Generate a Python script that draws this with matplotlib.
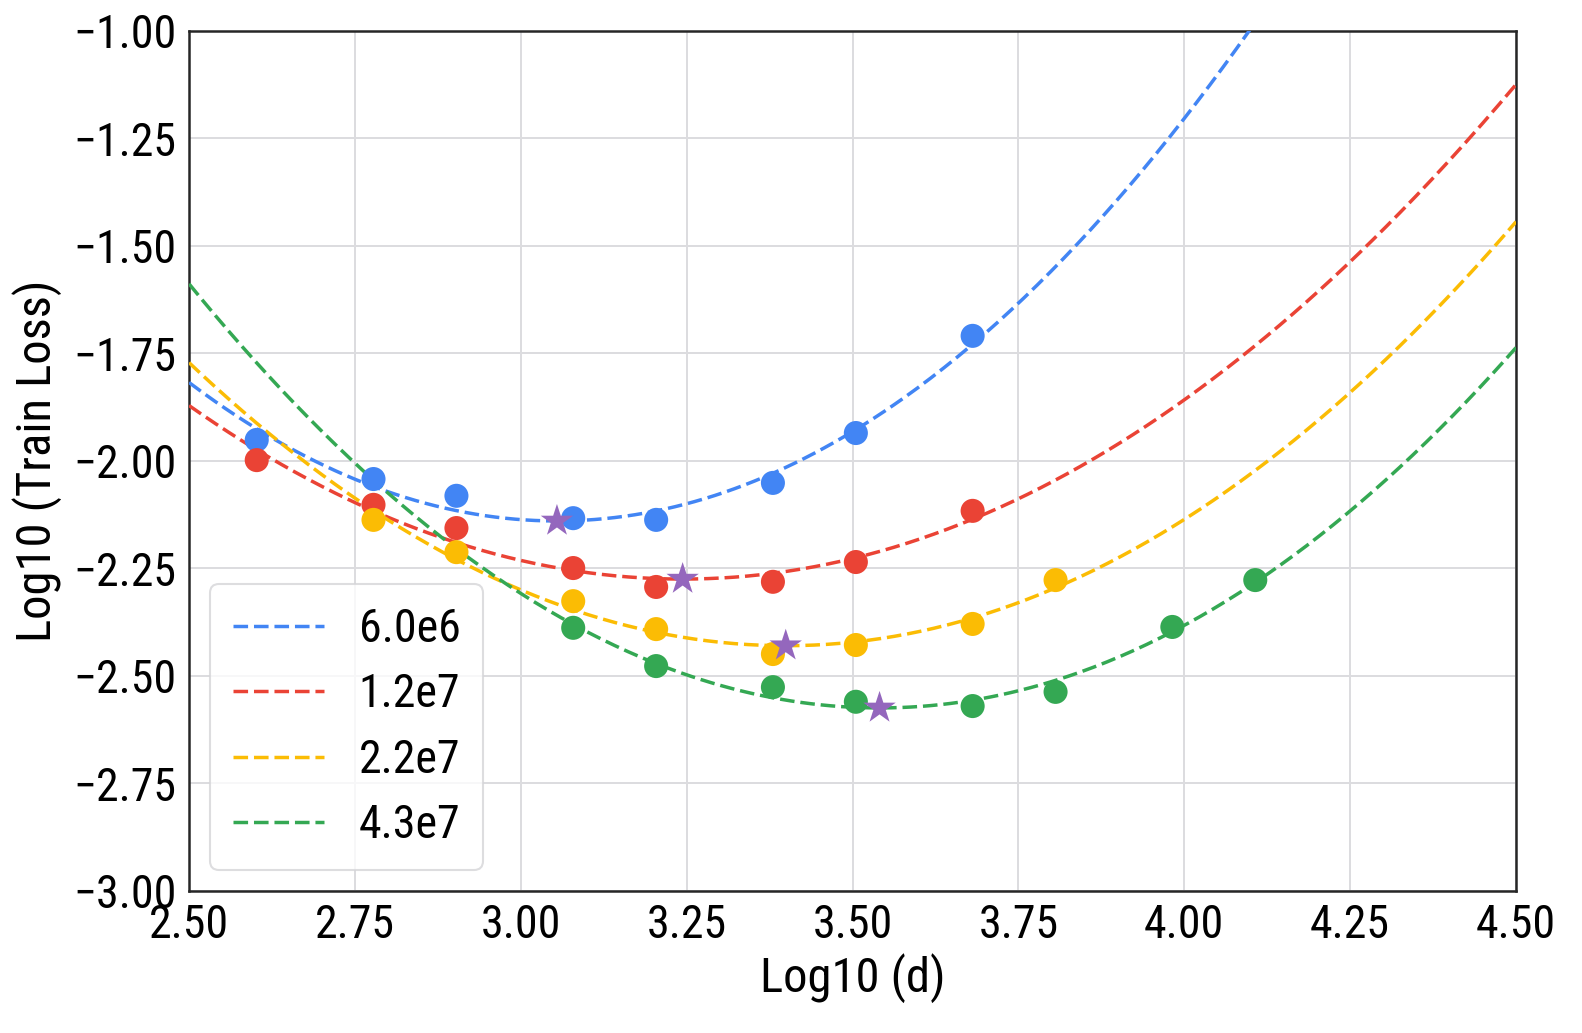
import numpy as np
import matplotlib
matplotlib.use("Agg")
import matplotlib.pyplot as plt
from matplotlib import font_manager

# ---- data ----
labels = ["6.0e6", "1.2e7", "2.2e7", "4.3e7"]
colors = ["#4285F4", "#EA4335", "#FBBC04", "#34A853"]

x_blue = [2.602, 2.778, 2.903, 3.079, 3.204, 3.380, 3.505, 3.681]
y_blue = [-1.951, -2.042, -2.081, -2.133, -2.137, -2.051, -1.935, -1.709]

x_red = [2.602, 2.778, 2.903, 3.079, 3.204, 3.380, 3.505, 3.681]
y_red = [-1.998, -2.102, -2.156, -2.249, -2.293, -2.281, -2.235, -2.116]

x_yellow = [2.778, 2.903, 3.079, 3.204, 3.380, 3.505, 3.681, 3.806]
y_yellow = [-2.137, -2.212, -2.326, -2.391, -2.449, -2.428, -2.379, -2.277]

x_green = [3.079, 3.204, 3.380, 3.505, 3.681, 3.806, 3.982, 4.107]
y_green = [-2.388, -2.477, -2.526, -2.560, -2.570, -2.537, -2.386, -2.277]

xs = [x_blue, x_red, x_yellow, x_green]
ys = [y_blue, y_red, y_yellow, y_green]

xticks = [2.50, 2.75, 3.00, 3.25, 3.50, 3.75, 4.00, 4.25, 4.50]
yticks = [-3.00, -2.75, -2.50, -2.25, -2.00, -1.75, -1.50, -1.25, -1.00]

names = {f.name for f in font_manager.fontManager.ttflist}
fam = "Roboto Condensed" if "Roboto Condensed" in names else "Roboto"
plt.rcParams["font.family"] = [fam, "DejaVu Sans"]
plt.rcParams["font.size"] = 33

fig = plt.figure(figsize=(15.82, 10.33), dpi=100)
ax = fig.add_axes([0.1195, 0.1375, 0.8388, 0.8325])

xx = np.linspace(2.5, 4.5, 400)
for x, y, c, lab in zip(xs, ys, colors, labels):
    x = np.array(x); y = np.array(y)
    p = np.polyfit(x, y, 2)
    ax.plot(xx, np.polyval(p, xx), "--", color=c, lw=2.5, dashes=(4.2, 1.7), label=lab, zorder=3)
    ax.scatter(x, y, s=300, color=c, zorder=4, edgecolors="none")
    xm = -p[1] / (2 * p[0])
    ax.scatter([xm], [np.polyval(p, xm)], marker="*", s=600, color="#9467bd", zorder=5, edgecolors="none")

ax.set_xlim(2.5, 4.5)
ax.set_ylim(-3.0, -1.0)
ax.set_xticks(xticks)
ax.set_yticks(yticks)
ax.set_xticklabels([f"{t:.2f}" for t in xticks])
ax.set_yticklabels([f"{t:.2f}".replace("-", "\u2212") for t in yticks])
ax.grid(True, color="#dcdcdf", lw=1.4)
ax.set_axisbelow(True)
for s in ax.spines.values():
    s.set_color("#262626")
    s.set_linewidth(1.8)
ax.tick_params(length=0, pad=9, labelsize=33)
ax.set_xlabel("Log10 (d)", fontsize=35, labelpad=4)
ax.set_ylabel("Log10 (Train Loss)", fontsize=35, labelpad=8)

leg = ax.legend(loc="lower left", handlelength=2.0, handletextpad=0.75, fontsize=33,
                borderpad=0.5, labelspacing=0.47, borderaxespad=0.45, fancybox=True,
                framealpha=0.8, edgecolor="#d5d5d8")
leg.get_frame().set_linewidth(1.5)

fig.savefig("out.png", dpi=100)
